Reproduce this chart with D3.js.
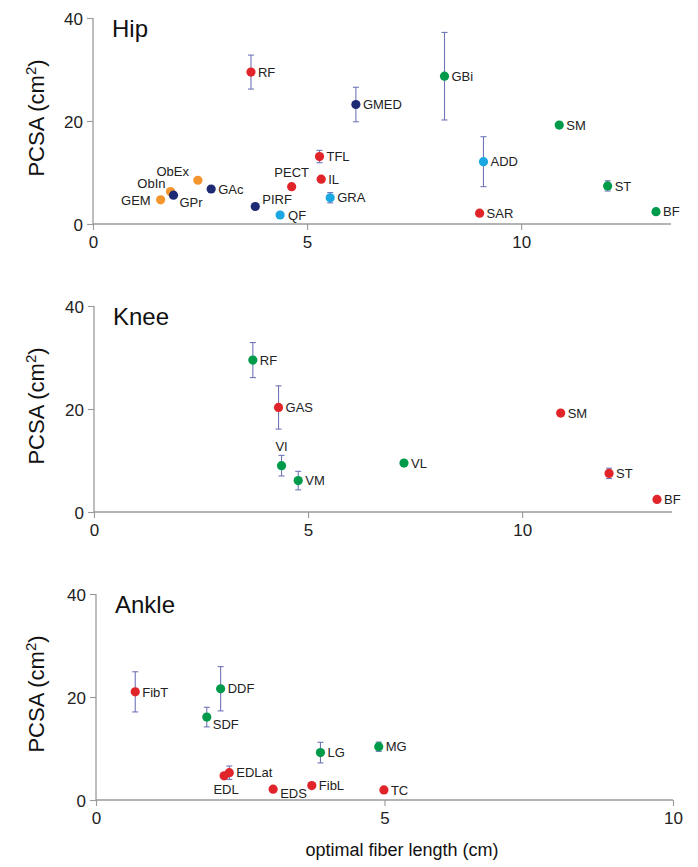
<!DOCTYPE html>
<html>
<head>
<meta charset="utf-8">
<script src="https://cdn.jsdelivr.net/npm/d3@7"></script>
<style>
  html, body { margin: 0; padding: 0; background: #fff; }
  svg { display: block; font-family: "Liberation Sans", Arial, Helvetica, sans-serif; }
</style>
</head>
<body>
<svg id="chart" width="698" height="867"></svg>
<script>
// ---------------- DATA ----------------
const panelTitles = ["Hip", "Knee", "Ankle"];
const xMaxes = [13.5, 13.5, 10];
const xTicks = [[0, 5, 10], [0, 5, 10], [0, 5, 10]];
const yTicks = [0, 20, 40];

// Hip
const hipMuscles = ["RF","ObEx","ObIn","GEM","GPr","GAc","PIRF","QF","PECT","TFL","IL","GRA","GMED","GBi","SM","ADD","SAR","ST","BF"];
const hipFiberLength = [3.69,2.45,1.81,1.58,1.88,2.76,3.79,4.37,4.64,5.29,5.33,5.54,6.14,8.21,10.89,9.12,9.03,12.02,13.15];
const hipPCSA = [29.5,8.5,6.3,4.7,5.6,6.8,3.4,1.75,7.25,13.1,8.7,5.1,23.2,28.7,19.2,12.1,2.1,7.4,2.4];
const hipError = [3.3,0,0,0,0,0,0,0,0,1.2,0,1.0,3.35,8.5,0,4.85,0,1.0,0];
const hipGroup = ["red","orange","orange","orange","navy","navy","navy","lightblue","red","red","red","lightblue","navy","green","green","lightblue","red","green","green"];

// Knee
const kneeMuscles = ["RF","GAS","VI","VM","VL","SM","ST","BF"];
const kneeFiberLength = [3.71,4.31,4.38,4.77,7.24,10.9,12.03,13.15];
const kneePCSA = [29.5,20.3,9.0,6.1,9.5,19.2,7.5,2.45];
const kneeError = [3.4,4.2,2.0,1.8,0,0.4,1.0,0];
const kneeGroup = ["green","red","green","green","green","red","red","red"];

// Ankle
const ankleMuscles = ["FibT","DDF","SDF","LG","MG","EDL","EDLat","EDS","FibL","TC"];
const ankleFiberLength = [0.68,2.16,1.92,3.89,4.9,2.22,2.31,3.07,3.74,4.99];
const anklePCSA = [21.0,21.6,16.1,9.2,10.35,4.7,5.3,2.1,2.8,1.95];
const ankleError = [3.9,4.3,1.9,2.0,0.9,0,1.3,0,0,0];
const ankleGroup = ["red","green","green","green","green","red","red","red","red","red"];

// ---------------- STYLE / LAYOUT ----------------
const colors = {
  red: "#e1232a",
  green: "#009a4b",
  navy: "#1e2b74",
  orange: "#f2952c",
  lightblue: "#1ba7e2"
};
const errColor = "#7075b8";
const axisColor = "#9a9a9a";
const textColor = "#222";

// label placements [dx, dy, anchor] relative to point (dy = vertical center offset)
const defaultLabel = [7, 0, "start"];
const labelPlacement = [
  { // hip
    ObEx: [-9, -9, "end"], ObIn: [-5, -8, "end"], GEM: [-10, 1, "end"],
    GPr: [6, 7, "start"], PIRF: [7, -7, "start"], QF: [8, 0, "start"],
    PECT: [0, -14, "middle"]
  },
  { // knee
    VI: [0, -19, "middle"]
  },
  { // ankle
    EDL: [2, 14, "middle"], EDS: [7, 4, "start"], SDF: [6, 7, "start"]
  }
];

const panels = [
  { x: [93, 671], y: [224, 18] },
  { x: [94, 672], y: [512, 306] },
  { x: [96, 673], y: [800, 594] }
];

const datasets = [
  { names: hipMuscles, xs: hipFiberLength, ys: hipPCSA, err: hipError, grp: hipGroup },
  { names: kneeMuscles, xs: kneeFiberLength, ys: kneePCSA, err: kneeError, grp: kneeGroup },
  { names: ankleMuscles, xs: ankleFiberLength, ys: anklePCSA, err: ankleError, grp: ankleGroup }
];

const svg = d3.select("#chart");

panels.forEach((p, i) => {
  const x = d3.scaleLinear().domain([0, xMaxes[i]]).range(p.x);
  const y = d3.scaleLinear().domain([0, 40]).range(p.y);
  const g = svg.append("g");

  // axes
  const xAxis = d3.axisBottom(x).tickValues(xTicks[i]).tickSize(6).tickPadding(6).tickFormat(d3.format("d"));
  const yAxis = d3.axisLeft(y).tickValues(yTicks).tickSize(6).tickPadding(4).tickFormat(d3.format("d"));

  const gx = g.append("g").attr("transform", `translate(0,${p.y[0]})`).call(xAxis);
  const gy = g.append("g").attr("transform", `translate(${p.x[0]},0)`).call(yAxis);
  [gx, gy].forEach(a => {
    a.select(".domain").attr("stroke", axisColor).attr("stroke-width", 1.3);
    a.selectAll(".tick line").attr("stroke", axisColor).attr("stroke-width", 1.1);
    a.selectAll(".tick text").attr("fill", textColor).attr("font-size", 17)
      .attr("font-family", "'Liberation Sans', Arial, sans-serif");
  });
  gy.selectAll(".tick text").attr("dy", "0.36em");
  // x domain without outer tick at end
  gx.select(".domain").attr("d", `M${p.x[0]},0H${p.x[1]}`);
  gy.select(".domain").attr("d", `M0,${p.y[0]}V${p.y[1]}`);

  // title
  g.append("text").attr("x", p.x[0] + 19).attr("y", p.y[1] + 19)
    .attr("font-size", 24).attr("fill", "#111").text(panelTitles[i]);

  // y-axis label
  const yl = g.append("text")
    .attr("transform", `translate(44,${(p.y[0] + p.y[1]) / 2 - 3}) rotate(-90)`)
    .attr("text-anchor", "middle").attr("font-size", 22).attr("fill", "#111");
  yl.append("tspan").text("PCSA (cm");
  yl.append("tspan").attr("baseline-shift", "super").attr("font-size", 15).text("2");
  yl.append("tspan").text(")");

  // data
  const d = datasets[i];
  const rows = d.names.map((n, k) => ({ name: n, fx: d.xs[k], fy: d.ys[k], e: d.err[k], grp: d.grp[k] }));

  // error bars
  const eb = g.append("g").selectAll("g").data(rows.filter(r => r.e > 0)).join("g")
    .attr("stroke", errColor).attr("stroke-width", 1.1).attr("fill", "none");
  eb.append("line").attr("x1", r => x(r.fx)).attr("x2", r => x(r.fx))
    .attr("y1", r => y(r.fy + r.e)).attr("y2", r => y(r.fy - r.e));
  eb.append("line").attr("x1", r => x(r.fx) - 3).attr("x2", r => x(r.fx) + 3)
    .attr("y1", r => y(r.fy + r.e)).attr("y2", r => y(r.fy + r.e));
  eb.append("line").attr("x1", r => x(r.fx) - 3).attr("x2", r => x(r.fx) + 3)
    .attr("y1", r => y(r.fy - r.e)).attr("y2", r => y(r.fy - r.e));

  // points
  g.append("g").selectAll("circle").data(rows).join("circle")
    .attr("cx", r => x(r.fx)).attr("cy", r => y(r.fy)).attr("r", 4.6)
    .attr("fill", r => colors[r.grp]);

  // labels
  g.append("g").selectAll("text").data(rows).join("text")
    .attr("x", r => x(r.fx) + (labelPlacement[i][r.name] || defaultLabel)[0])
    .attr("y", r => y(r.fy) + (labelPlacement[i][r.name] || defaultLabel)[1])
    .attr("dy", "0.36em")
    .attr("text-anchor", r => (labelPlacement[i][r.name] || defaultLabel)[2])
    .attr("font-size", 13).attr("fill", textColor)
    .text(r => r.name);
});

// x-axis title
svg.append("text").attr("x", 402).attr("y", 856).attr("text-anchor", "middle")
  .attr("font-size", 18).attr("fill", "#111").text("optimal fiber length (cm)");
</script>
</body>
</html>
